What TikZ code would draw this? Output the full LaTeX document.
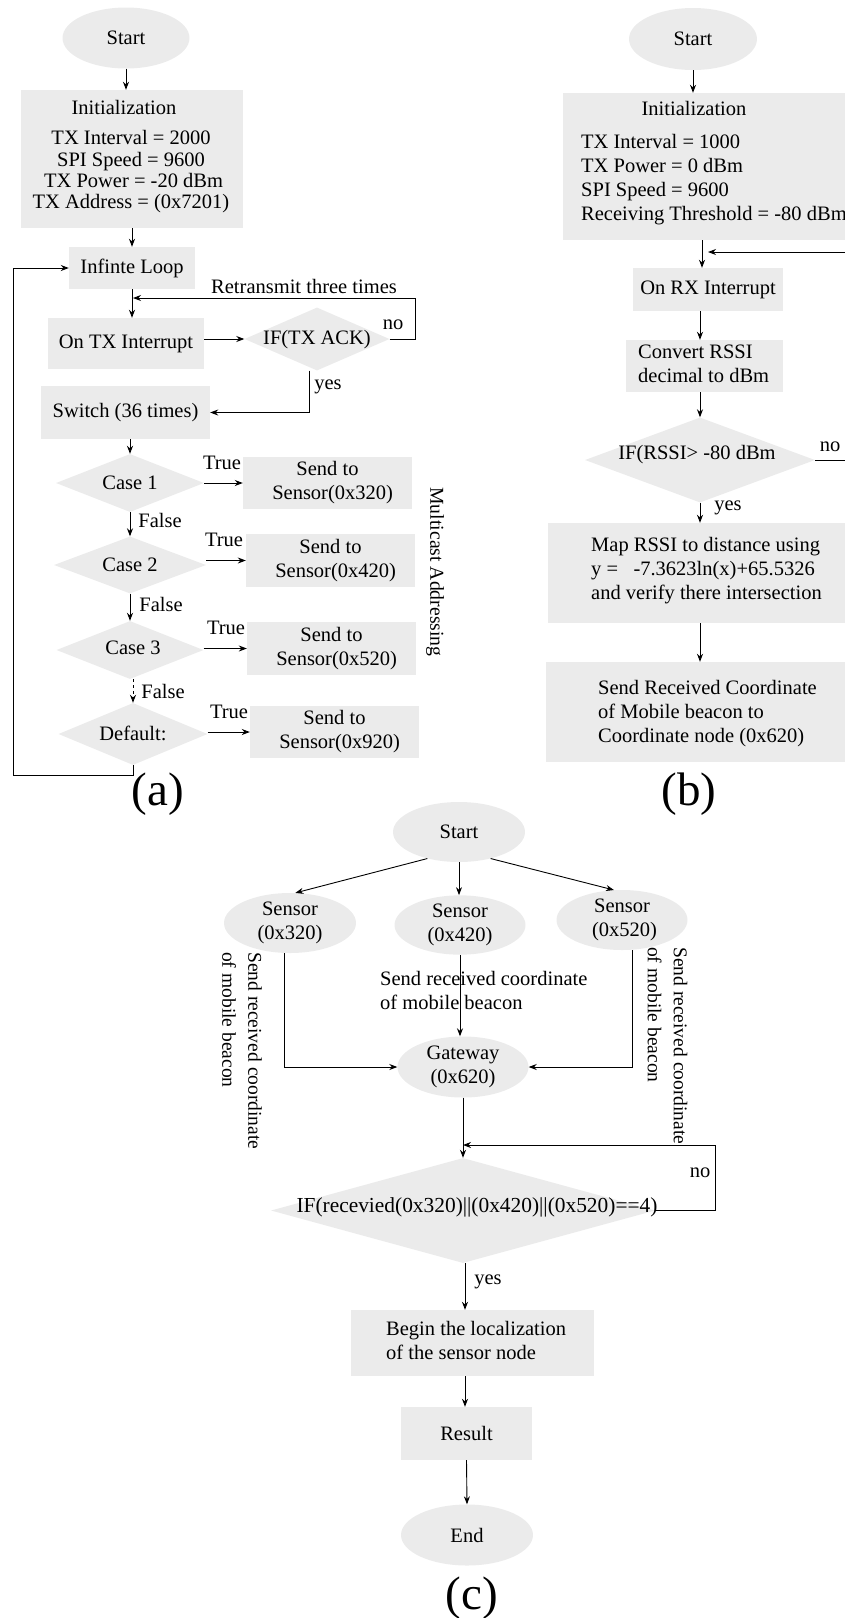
\documentclass[tikz,border=0pt]{standalone}
\usepackage{fontspec}
\setmainfont{Liberation Serif}
\usetikzlibrary{arrows.meta,shapes.geometric,calc}
\definecolor{boxgray}{RGB}{235,235,235}
\begin{document}
\begin{tikzpicture}[x=1pt,y=-1pt,
  every node/.style={font=\fontsize{20.5}{24}\selectfont},
  box/.style={rectangle,fill=boxgray,draw=none,inner sep=0pt},
  term/.style={ellipse,fill=boxgray,draw=none,inner sep=0pt,align=center},
  dia/.style={diamond,fill=boxgray,draw=none,inner sep=0pt},
  txt/.style={inner sep=0pt},
  ltxt/.style={inner sep=0pt,align=left,anchor=west},
  vtxt/.style={inner sep=0pt,align=left,anchor=west,rotate=-90,font=\fontsize{19.5}{26}\selectfont},
  captxt/.style={inner sep=0pt,font=\fontsize{47}{50}\selectfont},
  conn/.style={line width=0.9pt},
  arr/.style={conn,-{Stealth[length=8pt,width=6pt]}}]
\useasboundingbox (0,0) rectangle (845,1618);

% ---------------- (a) transmitter flow ----------------
\node[term,minimum width=127,minimum height=61] (sa) at (126,38) {Start};
\node[box,minimum width=222,minimum height=138] (ia) at (132,159) {};
\node[txt] (iat) at (124,107) {Initialization};
\node[txt,align=center,font=\fontsize{20.5}{21.3}\selectfont] (iav) at (131,172)
  {TX Interval = 2000\\SPI Speed = 9600\\\ TX Power = -20 dBm\\TX Address = (0x7201)};
\node[box,minimum width=126,minimum height=42] (loop) at (132,268) {Infinte Loop};
\node[box,minimum width=156,minimum height=51] (txi) at (126,343.5) {On TX Interrupt};
\node[dia,minimum width=145,minimum height=63] (ack) at (317,339) {};
\node[txt] (ackt) at (317,340) {IF(TX ACK)};
\node[box,minimum width=169,minimum height=53] (sw) at (125.5,412.5) {Switch (36 times)};

\node[dia,minimum width=148,minimum height=58] (c1) at (130,483) {};
\node[txt] (c1t) at (130,483) {Case 1};
\node[dia,minimum width=152,minimum height=57] (c2) at (130,565) {};
\node[txt] (c2t) at (130,565) {Case 2};
\node[dia,minimum width=147,minimum height=58] (c3) at (130,650) {};
\node[txt] (c3t) at (133,648) {Case 3};
\node[dia,minimum width=149,minimum height=62] (def) at (133,734) {};
\node[txt] (deft) at (133,733) {Default:};

\node[box,minimum width=169,minimum height=52,align=center] (s1) at (327.5,483) {Send to\\\ \ Sensor(0x320)};
\node[box,minimum width=169,minimum height=53,align=center] (s2) at (330.5,560.5) {Send to\\\ \ Sensor(0x420)};
\node[box,minimum width=169,minimum height=53,align=center] (s3) at (331.5,648.5) {Send to\\\ \ Sensor(0x520)};
\node[box,minimum width=169,minimum height=52,align=center] (s4) at (334.5,732) {Send to\\\ \ Sensor(0x920)};

\coordinate (rj) at (133,298);
\coordinate (rc) at (415,298);
\coordinate (lb) at (13,775);

\draw[arr] (sa.south) -- (sa.south |- ia.north);
\draw[arr] (ia.south) -- (loop.north);
\draw[arr] (loop.south) -- (loop.south |- txi.north);
\draw[arr] (txi.east |- ack) -- (ack.west);
\draw[arr] (ack.east) -| (rc) -- (rj);
\draw[arr] ([xshift=-8pt]ack.south) |- (sw.east);
\draw[arr] (sw.south -| c1.north) -- (c1.north);
\draw[arr] (c1.east) -- (c1.east -| s1.west);
\draw[arr] (s2.west -| c2.east) -- (s2.west);
\draw[arr] (s3.west -| c3.east) -- (s3.west);
\draw[arr] (s4.west -| def.east) -- (s4.west);
\draw[arr] (c1.south) -- (c2.north);
\draw[arr] (c2.south) -- (c3.north);
\draw[arr,dashed] (c3.south -| def.north) -- (def.north);
\draw[arr] (def.south) |- (lb) |- (loop.west);

\node[txt] (rtx) at (304,286) {Retransmit three times};
\node[txt] (ano) at (393,325) {no};
\node[txt] (ayes) at (328,387) {yes};
\node[txt] (tr1) at (222,463) {True};
\node[txt] (tr2) at (224,540) {True};
\node[txt] (tr3) at (226,628) {True};
\node[txt] (tr4) at (229,712) {True};
\node[txt] (f1) at (160,520) {False};
\node[txt] (f2) at (161,604) {False};
\node[txt] (f3) at (163,691) {False};
\node[txt,rotate=-90,font=\fontsize{19.7}{24}\selectfont] (mca) at (435,572) {Multicast Addressing};
\node[captxt] (capa) at (158,794) {(a)};

% ---------------- (b) receiver flow ----------------
\node[term,minimum width=128,minimum height=62] (sb) at (693,39) {Start};
\node[box,minimum width=337,minimum height=147] (ib) at (731.5,166.5) {};
\node[txt] (ibt) at (694,108) {Initialization};
\node[ltxt] (ibv) at (581,180)
  {TX Interval = 1000\\TX Power = 0 dBm\\SPI Speed = 9600\\Receiving Threshold = -80 dBm};
\node[box,minimum width=150,minimum height=43] (rx) at (708,289.5) {On RX Interrupt};
\node[box,minimum width=157,minimum height=52] (cv) at (704.5,366) {};
\node[ltxt] (cvt) at (638,364) {Convert RSSI\\decimal to dBm};
\node[dia,minimum width=230,minimum height=85] (rssi) at (700,460) {};
\node[txt] (rssit) at (697,455) {IF(RSSI> -80 dBm};
\node[box,minimum width=312,minimum height=100] (map) at (704,573) {};
\node[ltxt] (mapt) at (591,571)
  {Map RSSI to distance using\\y =\ \ \ -7.3623ln(x)+65.5326\\and verify there intersection};
\node[box,minimum width=314,minimum height=100] (snd) at (703,712) {};
\node[ltxt] (sndt) at (598,714)
  {Send Received Coordinate\\of Mobile beacon to\\Coordinate node (0x620)};

\coordinate (bret) at (875,252);
\coordinate (bj) at (708,252);

\draw[arr] (sb.south) -- (sb.south |- ib.north);
\draw[arr] ([xshift=-6pt]rx.north |- ib.south) -- ([xshift=-6pt]rx.north);
\draw[arr] (rssi.east) -| (bret) -- (bj);
\draw[arr] (rssi.north |- rx.south) -- (rssi.north |- cv.north);
\draw[arr] (rssi.north |- cv.south) -- (rssi.north);
\draw[arr] (rssi.south) -- (rssi.south |- map.north);
\draw[arr] (rssi.south |- map.south) -- (rssi.south |- snd.north);

\node[txt] (bno) at (830,447) {no};
\node[txt] (byes) at (728,508) {yes};
\node[captxt] (capb) at (689,794) {(b)};

% ---------------- (c) gateway flow ----------------
\node[term,minimum width=132,minimum height=60] (sc) at (459,832) {Start};
\node[term,minimum width=132,minimum height=60] (s320) at (290,923) {Sensor\\(0x320)};
\node[term,minimum width=131,minimum height=59] (s420) at (460,925) {Sensor\\(0x420)};
\node[term,minimum width=131,minimum height=60] (s520) at (622,920) {Sensor\\\ (0x520)};
\node[term,minimum width=131,minimum height=61] (gw) at (463,1067) {Gateway\\(0x620)};
\node[dia,minimum width=384,minimum height=105] (cif) at (463,1210.5) {};
\node[txt,font=\fontsize{21.4}{24}\selectfont] (cift) at (477,1207) {IF(recevied(0x320)||(0x420)||(0x520)==4)};
\node[box,minimum width=243,minimum height=66] (bg) at (472.5,1343) {};
\node[ltxt] (bgt) at (386,1340) {Begin the localization\\of the sensor node};
\node[box,minimum width=131,minimum height=53] (res) at (466.5,1433.5) {Result};
\node[term,minimum width=132,minimum height=61] (endc) at (467,1535) {End};

\coordinate (cret) at (715,1145);
\coordinate (cj) at (463,1145);

\draw[arr] (sc.-140) -- (s320.80);
\draw[arr] (sc.south) -- (sc.south |- s420.north);
\draw[arr] (sc.-40) -- (s520.105);
\draw[arr] ([xshift=-6pt]s320.south) |- (gw.west);
\draw[arr] (s420.south) -- (s420.south |- gw.north);
\draw[arr] ([xshift=10pt]s520.south) |- (gw.east);
\draw[arr] (gw.south) -- (gw.south |- cif.north);
\draw[arr] (cif.east) -| (cret) -- (cj);
\draw[arr] ([xshift=2pt]cif.south) -- ([xshift=2pt]cif.south |- bg.north);
\draw[arr] ([xshift=2pt]cif.south |- bg.south) -- ([xshift=2pt]cif.south |- res.north);
\draw[arr] (res.south) -- (endc.north);

\node[ltxt] (midt) at (380,990) {Send received coordinate\\of mobile beacon};
\node[vtxt] (lft) at (242,952) {Send received coordinate\\of mobile beacon};
\node[vtxt] (rgt) at (667.5,947) {Send received coordinate\\of mobile beacon};
\node[txt] (cno) at (700,1173) {no};
\node[txt] (cyes) at (488,1282) {yes};
\node[captxt] (capc) at (472,1598) {(c)};
\end{tikzpicture}
\end{document}
